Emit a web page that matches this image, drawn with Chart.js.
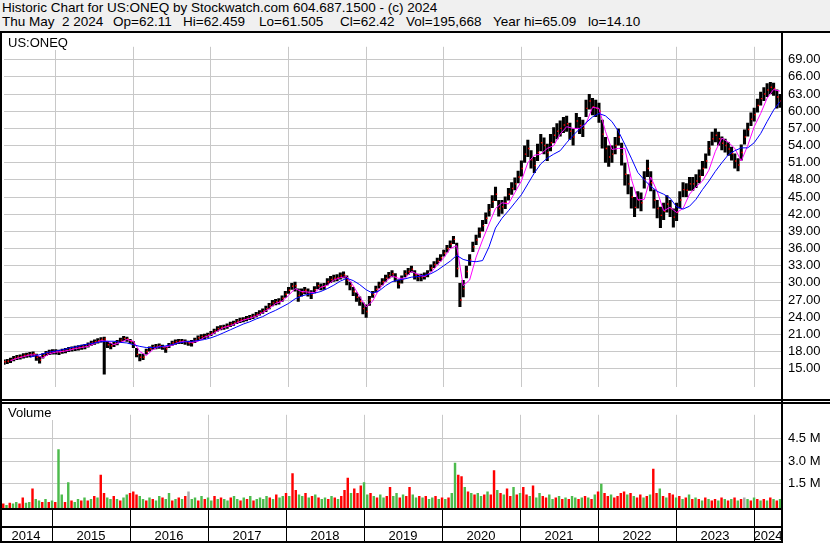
<!DOCTYPE html>
<html lang="en">
<head>
<meta charset="UTF-8">
<title>Historic Chart for US:ONEQ</title>
<script src="https://cdn.jsdelivr.net/npm/chart.js"></script>
<style>
  body { margin: 0; width: 830px; height: 543px; position: relative; overflow: hidden; background: #fff;
         font-family: 'Liberation Sans', Arial, sans-serif; color: #000; }
  #hdr { position: absolute; left: 0; top: 0; width: 830px; height: 33px; box-sizing: border-box;
         background: #f0f0f0; border-bottom: 2px solid #000; }
  #hdr span { position: absolute; font-size: 13.5px; line-height: 14px; white-space: pre; }
  #priceBox { position: absolute; left: 0; top: 33px; }
  #volBox { position: absolute; left: 0; top: 401px; }
  .tag { position: absolute; font-size: 13px; line-height: 14px; background: #fff; padding: 0 3px; }
</style>
</head>
<body>

<div id="hdr">
  <span style="left:2px; top:1px">Historic Chart for US:ONEQ by Stockwatch.com 604.687.1500 - (c) 2024</span>
  <span style="left:2px; top:15px">Thu May  2 2024</span>
  <span style="left:113px; top:15px">Op=62.11</span>
  <span style="left:183px; top:15px">Hi=62.459</span>
  <span style="left:259px; top:15px">Lo=61.505</span>
  <span style="left:340px; top:15px">Cl=62.42</span>
  <span style="left:406px; top:15px">Vol=195,668</span>
  <span style="left:493px; top:15px">Year hi=65.09</span>
  <span style="left:588px; top:15px">lo=14.10</span>
</div>

<div id="priceBox"><canvas id="price" width="830" height="368"></canvas></div>
<div id="volBox"><canvas id="vol" width="830" height="142"></canvas></div>
<div class="tag" style="left:5px; top:36px">US:ONEQ</div>
<div class="tag" style="left:5px; top:406px">Volume</div>

<script>
// x axis is months since May 2014; price bars are every half month
const yearLabels = ['2014','2015','2016','2017','2018','2019','2020','2021','2022','2023','2024'];
const yearStarts = [8, 20, 32, 44, 56, 68, 80, 92, 104, 116];
const lastMonth = 120.3;
const priceTicks = [15,18,21,24,27,30,33,36,39,42,45,48,51,54,57,60,63,66,69];
const volTicks = [1.5, 3.0, 4.5];

const priceHi = [
  16.6,16.7,16.9,17.2,17.4,17.5,17.7,17.8,17.9,18.0,
  17.6,17.2,17.7,18.1,18.3,18.4,18.4,18.3,18.5,18.6,
  18.8,18.9,19.0,19.1,19.2,19.3,19.6,19.9,20.1,20.3,
  20.5,20.6,19.8,19.5,19.7,20.0,20.4,20.7,20.6,20.2,
  19.8,18.6,17.6,17.6,18.5,18.9,19.2,19.3,19.4,19.2,
  18.9,19.5,19.9,20.1,20.2,20.2,20.1,19.9,20.0,20.4,
  20.8,21.0,21.1,21.3,21.6,22.0,22.4,22.6,22.7,22.9,
  23.2,23.4,23.7,23.9,24.0,24.2,24.4,24.6,24.9,25.2,
  25.5,26.0,26.5,27.0,27.2,27.3,27.8,28.6,29.3,30.0,
  30.2,29.0,29.0,29.3,29.0,28.7,29.4,30.1,29.9,30.0,
  30.8,31.2,31.4,31.5,31.8,32.0,31.3,30.2,29.3,28.3,
  27.6,26.6,26.2,27.7,28.6,29.5,30.2,30.8,31.4,31.9,
  32.2,31.7,30.6,31.3,32.2,32.6,33.0,32.2,31.6,31.6,
  31.8,32.2,33.2,33.8,34.4,35.0,35.8,36.6,37.4,38.2,
  37.0,30.0,30.5,33.0,35.0,37.2,38.4,39.7,41.0,42.3,
  43.8,45.3,46.8,44.5,44.5,45.1,46.6,47.6,48.4,49.6,
  51.4,54.0,55.0,53.2,52.0,54.3,56.0,55.4,54.3,56.0,
  57.2,57.9,58.4,59.0,59.2,58.0,57.0,59.7,59.0,58.5,
  62.0,63.0,62.3,62.0,61.5,58.5,55.5,54.0,54.0,55.5,
  57.0,54.5,51.0,49.0,46.8,45.0,46.0,45.8,49.5,51.5,
  49.5,46.3,44.5,43.3,44.0,45.3,44.5,43.0,44.0,46.0,
  47.6,47.4,48.5,48.5,49.0,49.8,51.3,52.6,54.8,56.4,
  57.0,56.4,55.6,55.2,54.6,53.8,52.6,51.8,54.2,56.8,
  58.0,59.8,60.6,62.2,63.4,64.2,64.9,65.1,65.0,63.8,63.0
];
const priceLo = [
  15.7,15.8,16.0,16.3,16.5,16.6,16.8,16.9,17.0,17.1,
  16.4,15.9,16.8,17.2,17.4,17.5,17.5,17.4,17.6,17.7,
  17.9,18.0,18.1,18.2,18.3,18.4,18.7,19.0,19.2,19.4,
  19.6,14.0,18.6,18.4,18.8,19.1,19.5,19.8,19.7,19.3,
  18.6,17.0,16.3,16.5,17.5,18.0,18.3,18.4,18.5,18.3,
  17.8,18.6,19.0,19.2,19.3,19.3,19.2,19.0,18.9,19.5,
  19.9,20.1,20.2,20.4,20.7,21.1,21.5,21.7,21.8,22.0,
  22.3,22.5,22.8,23.0,23.1,23.3,23.5,23.7,24.0,24.3,
  24.6,24.9,25.4,25.9,26.1,26.2,26.7,27.4,28.1,28.8,
  28.5,26.7,27.6,28.0,27.6,27.2,28.2,28.9,28.7,28.8,
  29.6,30.0,30.2,30.3,30.6,30.8,29.6,28.7,27.7,26.7,
  26.0,24.5,23.9,26.0,27.4,28.3,29.0,29.6,30.2,30.7,
  31.0,30.2,29.0,29.9,31.0,31.4,31.8,30.6,30.3,30.3,
  30.6,31.0,32.0,32.6,33.2,33.8,34.6,35.3,36.1,36.8,
  31.0,25.8,27.5,30.8,33.0,35.4,36.6,37.9,39.0,40.3,
  41.6,43.1,44.3,41.6,42.1,42.9,44.4,45.4,46.2,47.4,
  48.6,51.0,52.0,50.0,49.2,51.3,53.0,52.5,51.3,53.0,
  54.4,55.1,55.6,56.2,56.4,55.0,54.0,56.9,56.0,55.5,
  59.0,60.3,59.3,59.0,58.0,53.5,51.0,50.3,51.0,52.5,
  54.0,50.5,47.0,45.5,43.0,41.5,43.0,42.5,46.5,48.5,
  46.0,43.0,41.3,39.6,41.0,42.3,41.5,39.7,40.8,43.0,
  45.0,45.0,46.1,46.1,46.6,47.4,48.7,50.0,52.2,54.0,
  54.6,54.0,53.2,52.8,52.2,51.4,50.0,49.5,51.4,54.2,
  55.6,57.4,58.2,59.8,61.0,61.8,62.5,63.0,62.7,60.5,60.6
];
const priceClose = [
  16.2,16.3,16.5,16.8,17.0,17.1,17.3,17.4,17.5,17.6,
  17.0,16.5,17.3,17.7,17.9,18.0,18.0,17.9,18.1,18.2,
  18.4,18.5,18.6,18.7,18.8,18.9,19.2,19.5,19.7,19.9,
  20.1,20.2,19.2,19.0,19.3,19.6,20.0,20.3,20.2,19.8,
  19.3,17.5,17.0,17.0,18.0,18.5,18.8,18.9,19.0,18.8,
  18.5,19.1,19.5,19.7,19.8,19.8,19.7,19.5,19.5,20.0,
  20.4,20.6,20.7,20.9,21.2,21.6,22.0,22.2,22.3,22.5,
  22.8,23.0,23.3,23.5,23.6,23.8,24.0,24.2,24.5,24.8,
  25.1,25.5,26.0,26.5,26.7,26.8,27.3,28.0,28.7,29.4,
  29.5,27.8,28.3,28.7,28.3,28.0,28.8,29.5,29.3,29.4,
  30.2,30.6,30.8,30.9,31.2,31.4,30.5,29.5,28.5,27.5,
  26.8,25.5,25.0,27.0,28.0,28.9,29.6,30.2,30.8,31.3,
  31.6,31.0,29.8,30.6,31.6,32.0,32.4,31.4,31.0,31.0,
  31.2,31.6,32.6,33.2,33.8,34.4,35.2,36.0,36.8,37.6,
  32.5,27.0,29.0,32.0,34.0,36.3,37.5,38.8,40.0,41.3,
  42.7,44.2,45.5,43.0,43.3,44.0,45.5,46.5,47.3,48.5,
  50.0,52.5,53.5,51.5,50.5,52.8,54.5,54.0,52.8,54.5,
  55.8,56.5,57.0,57.6,57.8,56.5,55.5,58.3,57.5,57.0,
  60.5,61.8,60.8,60.5,60.0,56.0,53.5,52.0,52.5,54.0,
  55.5,52.5,49.0,47.3,45.0,43.2,44.5,44.0,48.0,50.0,
  47.5,44.5,43.0,41.8,42.5,43.8,43.0,41.5,42.3,44.5,
  46.3,46.2,47.3,47.3,47.8,48.6,50.0,51.3,53.5,55.2,
  55.8,55.2,54.4,54.0,53.4,52.6,51.3,50.6,52.8,55.5,
  56.8,58.6,59.4,61.0,62.2,63.0,63.7,64.2,64.0,62.5,61.8
];

// moving averages, one value per month
const maFast = [
  null,
  16.4,16.8,17.1,17.4,17.4,16.9,17.6,17.9,18.0,18.2,
  18.5,18.7,18.9,19.4,19.9,19.8,19.2,19.6,20.1,19.8,
  18.0,17.3,18.3,18.9,18.8,19.1,19.6,19.8,19.6,19.8,
  20.5,20.9,21.6,22.2,22.5,23.0,23.5,23.8,24.2,24.8,
  25.5,26.4,26.8,27.8,29.0,28.5,28.4,28.3,29.2,29.6,
  30.5,30.9,31.1,29.5,27.6,25.8,26.8,28.9,30.2,31.2,
  30.8,30.8,32.0,31.5,31.1,31.8,33.1,34.4,36.0,36.5,
  29.5,30.5,34.5,37.5,40.3,43.0,44.0,43.8,45.8,47.8,
  51.0,52.3,52.5,53.5,54.0,56.0,57.3,57.0,57.0,57.8,
  60.7,60.5,56.5,53.3,53.5,53.5,48.2,44.5,44.6,48.5,
  46.0,42.6,43.2,42.3,43.0,45.5,46.8,47.8,49.7,53.0,
  55.3,54.6,53.5,51.3,54.0,57.3,59.6,62.3,63.8,63.5
];
const maSlow = [
  null,null,null,null,
  17.0,17.3,17.6,17.9,18.1,18.3,18.6,18.8,19.1,19.3,
  19.5,19.7,19.8,19.8,19.6,19.5,19.2,18.9,18.7,18.7,
  18.8,19.0,19.2,19.5,19.7,19.8,19.9,20.1,20.4,20.8,
  21.3,21.8,22.3,22.8,23.2,23.7,24.1,24.7,25.2,25.8,
  26.4,27.2,27.7,28.0,28.2,28.5,29.0,29.6,30.3,30.8,
  30.4,29.7,28.8,28.2,28.6,29.5,30.2,30.5,30.7,31.0,
  31.1,31.3,31.6,32.2,33.0,33.8,34.8,34.1,33.8,33.7,
  33.9,36.3,39.6,41.3,42.6,44.0,45.4,47.3,49.2,50.8,
  51.8,52.5,53.1,54.5,55.8,56.9,58.0,59.0,59.6,59.2,
  58.2,56.5,54.2,51.8,49.3,48.0,46.9,46.0,45.5,44.8,
  43.3,42.9,43.4,44.6,46.3,47.8,49.5,51.0,52.4,53.1,
  53.6,53.6,54.5,56.1,58.2,60.2,61.7
];

// volume in millions, half-month bins; r = down, g = up, n = unchanged
const volume = [
  0.15,0.2,0.1,0.25,0.2,0.3,0.2,0.6,0.25,0.3,
  1.2,0.5,0.4,0.3,0.5,0.3,0.4,0.3,3.8,0.8,
  0.3,1.6,0.4,0.3,0.5,0.4,0.6,0.4,0.5,0.7,
  0.6,2.1,0.9,0.6,0.5,0.7,0.5,0.4,0.6,0.8,
  0.9,1.0,0.8,0.7,0.5,0.4,0.6,0.5,0.4,0.7,
  0.6,0.5,0.9,0.4,0.5,0.6,0.5,0.7,1.0,0.5,
  0.6,0.4,0.7,0.5,0.6,0.4,0.7,0.5,0.6,0.5,
  0.4,0.6,0.7,0.5,0.4,0.6,0.5,0.7,0.4,0.5,
  0.6,0.5,0.7,0.6,0.5,0.8,0.6,0.7,0.9,0.7,
  2.2,1.1,0.8,0.7,0.9,0.6,0.7,0.8,0.6,0.5,
  0.6,0.5,0.7,0.6,0.5,0.7,1.1,1.9,0.9,1.2,
  0.9,1.4,1.6,0.8,0.9,0.7,0.6,0.8,0.6,0.7,
  1.3,0.7,0.9,0.6,0.8,0.7,1.3,0.8,0.6,0.7,
  0.6,0.7,0.5,0.6,0.7,0.5,0.6,0.5,0.6,0.9,
  2.9,2.1,2.0,1.3,1.0,0.9,0.8,0.9,0.7,0.8,
  1.0,0.8,2.4,1.1,0.9,0.8,1.2,0.7,1.3,0.8,
  0.9,1.3,0.8,0.7,1.4,0.6,0.9,0.7,0.6,0.8,
  0.5,0.6,0.7,0.5,0.6,0.5,0.7,0.6,0.5,0.6,
  0.7,0.6,0.5,0.8,1.0,1.5,0.9,0.7,0.8,0.6,
  0.7,0.9,1.0,0.8,0.9,0.7,0.6,0.8,0.6,0.7,
  0.8,2.5,0.9,1.2,0.7,0.6,0.9,0.8,0.6,0.7,
  0.5,0.6,0.8,0.5,0.6,0.5,0.4,0.6,0.5,0.4,
  0.5,0.4,0.6,0.5,0.4,0.5,0.6,0.4,0.5,0.6,
  0.5,0.4,0.6,0.5,0.4,0.5,0.4,0.6,0.5,0.4,0.5
];
const volDir = (
  'grgrggrrgg' + 'rggrgrgrgg' + 'rgrggrgrgr' + 'grrggrgrgg' + 'rrrggrgrgg' + 'rggrgrgrng' +
  'grgrggrgrg' + 'grggrgrgrg' + 'gggrgrggrg' + 'rrggrgrgrg' + 'grgrgrrrgr' + 'rrggrgrggr' +
  'rggrgrrggr' + 'grggrgrgrg' + 'grrgrgrggr' + 'grrgrgrrgr' + 'grrgrggrrg' + 'grgrgrggrg' +
  'rgrgrgrrgr' + 'rrrgrgrrgr' + 'grrgrgrrgr' + 'grgrgrgrgr' + 'rgrgrgrgrn' + 'grgrgrgrgrg'
).split('');

const dirColors = { r: '#ff0000', g: '#4cbb4c', n: '#a8a8a8' };
const gridColor = '#c8c8c8';

Chart.defaults.font.family = "'Liberation Sans', Arial, sans-serif";
Chart.defaults.font.size = 13;
Chart.defaults.color = '#000';

function fixedTicks(list) {
  return s => { s.ticks = list.map(v => ({ value: v })); };
}

const yearGrid = {
  type: 'linear', min: 0, max: lastMonth, offset: false,
  afterBuildTicks: fixedTicks(yearStarts),
  grid: { color: gridColor, offset: false, drawTicks: false },
  border: { display: false },
  ticks: { display: false },
  afterFit: s => { s.height = 0; s.paddingLeft = 0; s.paddingRight = 0; }
};

// black panel frames
const priceFrame = {
  id: 'priceFrame',
  afterDraw(c) {
    const g = c.ctx, right = c.chartArea.right;
    g.save();
    g.fillStyle = '#000';
    g.fillRect(0, 0, 2, c.height);
    g.fillRect(right - 1, 0, 2, c.height);
    g.fillRect(0, c.height - 2, c.width, 2);
    g.restore();
  }
};

const volFrame = {
  id: 'volFrame',
  afterDraw(c) {
    const g = c.ctx, a = c.chartArea, xs = c.scales.x;
    g.save();
    g.fillStyle = '#000';
    g.fillRect(0, 1, c.width, 2);
    g.fillRect(0, 0, 2, c.height);
    g.fillRect(a.right - 1, 0, 2, c.height);
    g.fillRect(0, a.bottom, a.right + 1, 2);
    g.fillRect(0, a.bottom + 18, a.right + 1, 2);
    g.fillRect(0, a.bottom + 33, a.right + 1, 2);
    yearStarts.forEach(v => {
      g.fillRect(Math.round(xs.getPixelForValue(v)), a.bottom + 2, 1, 31);
    });
    g.restore();
  }
};

new Chart(document.getElementById('price'), {
  type: 'bar',
  data: {
    datasets: [
      {
        type: 'bar',
        data: priceHi.map((h, i) => ({ x: i / 2, y: [priceLo[i], h] })),
        backgroundColor: '#000',
        barPercentage: 0.95,
        categoryPercentage: 1,
        order: 4
      },
      {
        type: 'line',
        data: priceClose.map((v, i) => ({ x: i / 2 + 0.15, y: v })),
        showLine: false,
        pointStyle: 'rect',
        pointRadius: 1,
        pointBorderWidth: 0,
        pointBackgroundColor: '#ff0000',
        order: 3
      },
      {
        type: 'line',
        data: maFast.map((v, i) => ({ x: i, y: v })).filter(p => p.y !== null),
        borderColor: '#ff00ff',
        borderWidth: 1,
        pointRadius: 0,
        tension: 0,
        order: 2
      },
      {
        type: 'line',
        data: maSlow.map((v, i) => ({ x: i, y: v })).filter(p => p.y !== null),
        borderColor: '#0000ff',
        borderWidth: 1,
        pointRadius: 0,
        tension: 0,
        order: 1
      }
    ]
  },
  options: {
    responsive: false,
    animation: false,
    events: [],
    layout: { padding: 0 },
    plugins: { legend: { display: false }, tooltip: { enabled: false } },
    scales: {
      x: yearGrid,
      y: {
        position: 'right',
        min: 11.766, max: 71.263,
        beginAtZero: false,
        afterBuildTicks: fixedTicks(priceTicks),
        grid: { color: gridColor, drawTicks: false },
        border: { display: false },
        ticks: { padding: 6, callback: v => v.toFixed(2) },
        afterFit: s => { s.width = 48; }
      }
    }
  },
  plugins: [priceFrame]
});

new Chart(document.getElementById('vol'), {
  type: 'bar',
  data: {
    datasets: [{
      data: volume.map((v, i) => ({ x: i / 2, y: v })),
      backgroundColor: volDir.map(d => dirColors[d]),
      barPercentage: 0.75,
      categoryPercentage: 1,
      base: -0.098
    }]
  },
  options: {
    responsive: false,
    animation: false,
    events: [],
    layout: { padding: 0 },
    plugins: { legend: { display: false }, tooltip: { enabled: false } },
    scales: {
      x: yearGrid,
      xl: {
        type: 'linear', position: 'bottom', min: 0, max: lastMonth, offset: false,
        afterBuildTicks: s => {
          const edges = [0].concat(yearStarts, [lastMonth]);
          s.ticks = yearLabels.map((_, i) => ({ value: (edges[i] + edges[i + 1]) / 2 }));
        },
        grid: { display: false },
        border: { display: false },
        ticks: { padding: 13, autoSkip: false, maxRotation: 0, callback: (v, i) => yearLabels[i] },
        afterFit: s => { s.height = 35; s.paddingLeft = 0; s.paddingRight = 0; }
      },
      y: {
        position: 'right',
        min: -0.098, max: 6.075,
        beginAtZero: false,
        afterBuildTicks: fixedTicks(volTicks),
        grid: { color: gridColor, drawTicks: false },
        border: { display: false },
        ticks: { padding: 6, callback: v => v.toFixed(1) + ' M' },
        afterFit: s => { s.width = 48; }
      }
    }
  },
  plugins: [volFrame]
});
</script>
</body>
</html>
